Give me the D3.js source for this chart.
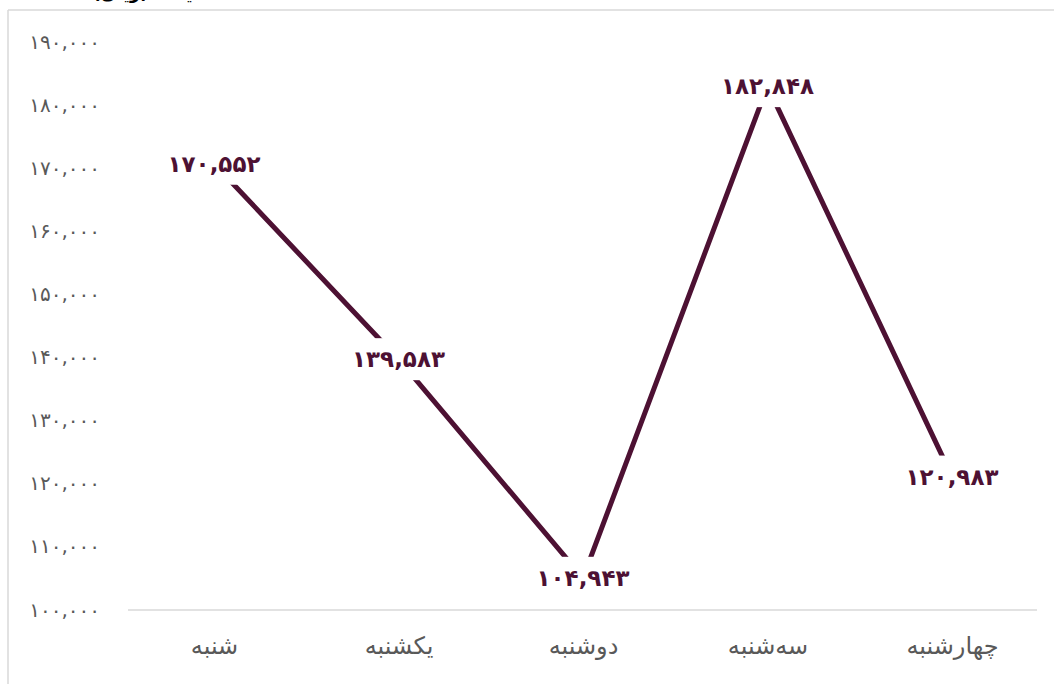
<!DOCTYPE html>
<html><head><meta charset="utf-8">
<script src="https://cdn.jsdelivr.net/npm/d3@7"></script>
<style>
html,body{margin:0;padding:0;background:#fff;overflow:hidden;}
svg{display:block;}
</style></head>
<body>
<svg id="chart" width="1054" height="684"></svg>
<script>
const categories = ["شنبه","یکشنبه","دوشنبه","سه‌شنبه","چهارشنبه"];
const values = [170552, 139583, 104943, 182848, 120983];
const yTicks = [100000,110000,120000,130000,140000,150000,160000,170000,180000,190000];
const titleText = "قیمت (ریال)";

const faDigits = "۰۱۲۳۴۵۶۷۸۹";
const fa = s => String(s).replace(/[0-9]/g, d => faDigits[+d]);
const fmt = v => fa(d3.format(",")(v));

const W = 1054, H = 684;
const svg = d3.select("#chart");
const font = "'DejaVu Sans', sans-serif";
const col = "#4d1133";

// frame
svg.append("line").attr("x1",8).attr("x2",8).attr("y1",10).attr("y2",H).attr("stroke","#d9d9d9").attr("stroke-width",1.5);
svg.append("line").attr("x1",8).attr("x2",W).attr("y1",10).attr("y2",10).attr("stroke","#d9d9d9").attr("stroke-width",1.5);

// title (cut off at the top, as in the reference)
svg.append("text").attr("x",205).attr("y",-1).attr("text-anchor","start")
  .attr("font-family",font).attr("font-weight","bold").attr("font-size",18).attr("fill","#000")
  .attr("direction","rtl").text(titleText);

const x = d3.scalePoint().domain(categories).range([214, 952]);
const y = d3.scaleLinear().domain([100000,190000]).range([609, 41]);

// baseline
svg.append("line").attr("x1",128).attr("x2",1037).attr("y1",y(100000)+1).attr("y2",y(100000)+1)
  .attr("stroke","#d9d9d9").attr("stroke-width",1.5);

// y axis
const yAxis = d3.axisLeft(y).tickValues(yTicks).tickSize(0).tickFormat(fmt);
const gy = svg.append("g").attr("transform","translate(103,0)").call(yAxis);
gy.select(".domain").remove();
gy.selectAll("text").attr("font-family",font).attr("font-size",20).attr("fill","#595959").attr("dx",0).attr("dy","0.35em");

// x labels
const xAxis = d3.axisBottom(x).tickSize(0);
const gx = svg.append("g").attr("transform","translate(0,634)").call(xAxis);
gx.select(".domain").remove();
gx.selectAll("text").attr("font-family",font).attr("font-size",24).attr("fill","#595959").attr("dy","0.7em");

// line
const line = d3.line().x((d,i)=>x(categories[i])).y(d=>y(d));
svg.append("path").datum(values).attr("d",line).attr("fill","none")
  .attr("stroke",col).attr("stroke-width",5).attr("stroke-linejoin","round");

// labels with white backgrounds
const lg = svg.append("g");
values.forEach((v,i)=>{
  const g = lg.append("g");
  const t = g.append("text").attr("x",x(categories[i])).attr("y",y(v))
    .attr("text-anchor","middle").attr("dominant-baseline","central")
    .attr("font-family",font).attr("font-weight","bold").attr("font-size",23).attr("fill",col)
    .text(fmt(v));
  const b = t.node().getBBox();
  g.insert("rect","text").attr("x",b.x-8).attr("y",b.y-8).attr("width",b.width+16).attr("height",b.height+16).attr("fill","#fff");
});
</script>
</body></html>
